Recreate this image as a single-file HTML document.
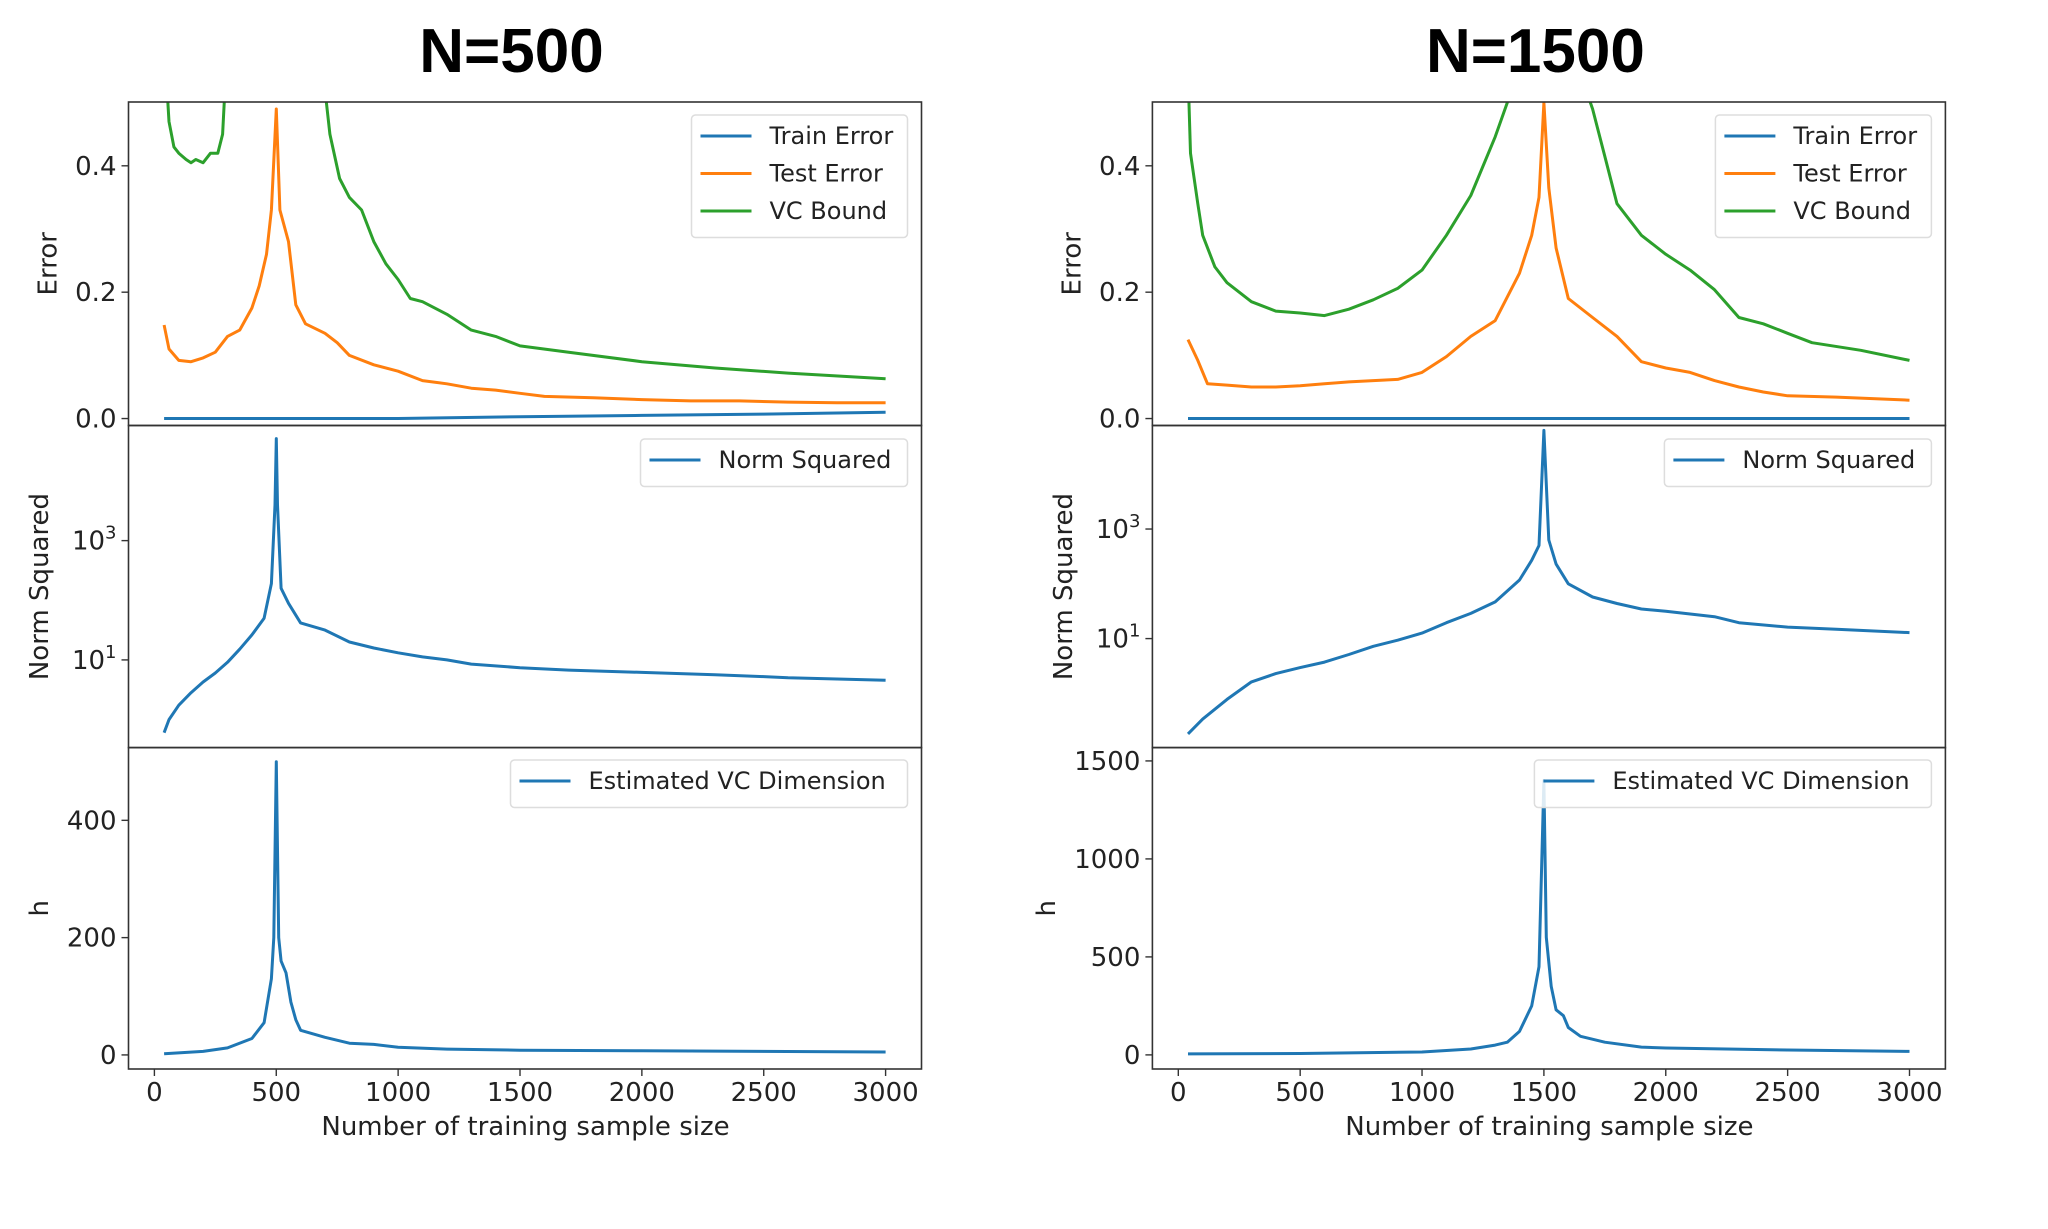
<!DOCTYPE html>
<html><head><meta charset="utf-8"><style>
html,body{margin:0;padding:0;background:#fff;}
svg{display:block;}
text{font-family:"DejaVu Sans","Liberation Sans",sans-serif;fill:#222;}
.title{font-family:"Liberation Sans",sans-serif;font-weight:bold;fill:#000;}
</style></head><body>
<svg id="chart" width="2048" height="1229" viewBox="0 0 2048 1229" xmlns="http://www.w3.org/2000/svg"></svg>
<script>
// ---- data: N=500 ----
const xTest500 = [40,60,100,150,200,250,300,350,400,430,460,480,500,515,550,580,620,700,750,800,900,1000,1100,1200,1300,1400,1500,1600,1800,2000,2200,2400,2600,2800,3000];
const yTest500 = [0.148,0.11,0.092,0.09,0.096,0.105,0.13,0.14,0.175,0.21,0.26,0.33,0.49,0.33,0.28,0.18,0.15,0.135,0.12,0.1,0.085,0.075,0.06,0.055,0.048,0.045,0.04,0.035,0.033,0.03,0.028,0.028,0.026,0.025,0.025];
const xVC500 = [40,60,80,100,130,150,170,200,230,260,280,300,400,500,600,700,720,760,800,850,900,950,1000,1050,1100,1200,1300,1400,1500,1700,2000,2300,2600,3000];
const yVC500 = [0.6,0.47,0.43,0.42,0.41,0.405,0.41,0.405,0.42,0.42,0.45,0.6,1.0,2.0,1.0,0.52,0.45,0.38,0.35,0.33,0.28,0.245,0.22,0.19,0.185,0.165,0.14,0.13,0.115,0.105,0.09,0.08,0.072,0.063];
const xTrain500 = [40,1000,1500,2000,2500,3000];
const yTrain500 = [0,0,0.003,0.005,0.007,0.01];
const xNorm500 = [40,60,100,150,200,250,300,350,400,450,480,495,500,505,520,550,600,700,800,900,1000,1100,1200,1300,1500,1700,2000,2300,2500,2600,3000];
const yNormLog500 = [-0.22,0.0,0.24,0.45,0.63,0.78,0.96,1.18,1.42,1.7,2.28,3.6,4.71,3.6,2.2,1.95,1.62,1.5,1.3,1.2,1.12,1.05,1.0,0.93,0.87,0.83,0.79,0.75,0.72,0.7,0.66];
const xH500 = [40,200,300,400,450,480,490,500,510,520,540,560,580,600,700,800,900,1000,1200,1500,2000,3000];
const yH500 = [2,6,12,28,55,130,200,500,200,160,140,90,60,42,30,20,18,13,10,8,7,5];
// ---- data: N=1500 ----
const xTest1500 = [40,80,120,200,300,400,500,600,700,800,900,1000,1100,1200,1300,1400,1450,1480,1500,1520,1550,1600,1700,1800,1900,2000,2100,2200,2300,2400,2500,2700,3000];
const yTest1500 = [0.125,0.092,0.055,0.053,0.05,0.05,0.052,0.055,0.058,0.06,0.062,0.073,0.098,0.13,0.155,0.23,0.29,0.35,0.5,0.365,0.27,0.19,0.16,0.13,0.09,0.08,0.073,0.06,0.05,0.042,0.036,0.034,0.029];
const xVC1500 = [40,50,80,100,150,200,250,300,400,500,600,700,800,900,1000,1100,1200,1300,1350,1400,1500,1600,1700,1750,1800,1900,2000,2100,2200,2300,2400,2500,2600,2800,3000];
const yVC1500 = [0.55,0.42,0.34,0.29,0.24,0.215,0.2,0.185,0.17,0.167,0.163,0.173,0.188,0.206,0.235,0.29,0.353,0.446,0.5,0.6,1.5,0.6,0.49,0.415,0.34,0.29,0.26,0.235,0.204,0.16,0.15,0.135,0.12,0.108,0.092];
const xTrain1500 = [40,3000];
const yTrain1500 = [0,0];
const xNorm1500 = [40,100,200,300,400,500,600,700,800,900,1000,1100,1200,1300,1400,1450,1480,1500,1520,1550,1600,1700,1800,1900,2000,2200,2300,2500,2700,3000];
const yNormLog1500 = [-0.74,-0.47,-0.11,0.21,0.36,0.47,0.57,0.71,0.86,0.97,1.1,1.29,1.46,1.67,2.07,2.43,2.7,4.8,2.8,2.36,2.0,1.76,1.64,1.54,1.5,1.4,1.29,1.21,1.17,1.11];
const xH1500 = [40,500,1000,1200,1300,1350,1400,1450,1480,1500,1510,1530,1550,1580,1600,1650,1750,1900,2000,2500,3000];
const yH1500 = [5,7,15,30,50,65,120,250,450,1400,600,350,230,200,140,95,65,40,35,25,18];
const xTicks = [0,500,1000,1500,2000,2500,3000];
const errTicks = ['0.0','0.2','0.4'];
const hTicks500 = [0,200,400];
const hTicks1500 = [0,500,1000,1500];

const NS='http://www.w3.org/2000/svg';
const svg=document.getElementById('chart');
function el(tag,attrs,parent){const e=document.createElementNS(NS,tag);for(const k in attrs)e.setAttribute(k,attrs[k]);(parent||svg).appendChild(e);return e;}
const C={blue:'#1f77b4',orange:'#ff7f0e',green:'#2ca02c'};
let clipId=0;

function panel(ox,top,bot,ymin,ymax,tag,xv){
  const L=ox,R=ox+793;
  const sx=v=>ox+25.9+v*(731.2/3000);
  const sy=v=>bot-(v-ymin)/(ymax-ymin)*(bot-top);
  const g=el('g',{});
  
  
  const id='clip'+(clipId++);
  const cp=el('clipPath',{id:id},g);el('rect',{x:L,y:top,width:R-L,height:bot-top},cp);
  return {L,R,top,bot,sx,sy,g,clip:'url(#'+id+')'};
}
function line(p,xs,ys,color,name){
  const d=xs.map((x,i)=>(i?'L':'M')+p.sx(x).toFixed(1)+' '+p.sy(ys[i]).toFixed(1)).join(' ');
  const e=el('path',{d:d,fill:'none',stroke:color,'stroke-width':3,'stroke-linejoin':'round','clip-path':p.clip},p.g);
  
  
}
function frame(p,name){
  const r=el('rect',{x:p.L,y:p.top,width:p.R-p.L,height:p.bot-p.top,fill:'none',stroke:'#333','stroke-width':1.6},p.g);
  
  
}
function ytick(p,v,label,sup){
  const y=p.sy(v);
  el('line',{x1:p.L-7,x2:p.L,y1:y,y2:y,stroke:'#333','stroke-width':1.4},p.g);
  const t=el('text',{x:p.L-12,y:y+9,'text-anchor':'end','font-size':26},p.g);
  
  
  if(sup){t.textContent=label;const s=el('tspan',{'font-size':18,dy:-11},t);s.textContent=sup;}
  else t.textContent=label;
}
function ylabel(p,x,text){
  const y=(p.top+p.bot)/2;
  const t=el('text',{x:x,y:y,'text-anchor':'middle','font-size':26,transform:'rotate(-90 '+x+' '+y+')'},p.g);
  t.textContent=text;
  
  
}
function legend(p,x0,y0,w,entries){
  const h=entries.length*37.5+10;
  const box=el('rect',{x:x0,y:y0,width:w,height:h,rx:4,fill:'#fff','fill-opacity':0.85,stroke:'#ddd','stroke-width':1.5},p.g);
  
  
  entries.forEach((en,i)=>{
    const cy=y0+21+i*37.5;
    el('line',{x1:x0+9,x2:x0+60,y1:cy,y2:cy,stroke:en[1],'stroke-width':3},p.g);
    const t=el('text',{x:x0+78,y:cy+8,'font-size':24},p.g);
    t.textContent=en[0];
    
    
  });
}

function column(ox,titleText,d){
  const title=el('text',{x:ox+383,y:72,'text-anchor':'middle','font-size':62,class:'title'});
  title.textContent=titleText;
  
  
  // error panel
  const p1=panel(ox,102,425.5,-0.011,0.501,'error');
  line(p1,d.xTrain,d.yTrain,C.blue,'train-error-line');
  line(p1,d.xTest,d.yTest,C.orange,'test-error-line');
  line(p1,d.xVC,d.yVC,C.green,'vc-bound-line');
  frame(p1,'error-axes');
  errTicks.forEach(s=>ytick(p1,parseFloat(s),s));
  ylabel(p1,ox-72,'Error');
  legend(p1,ox+563,115,216,[['Train Error',C.blue],['Test Error',C.orange],['VC Bound',C.green]]);
  // norm panel (log10 values)
  const p2=panel(ox,425.5,747.6,d.nMin,d.nMax,'norm');
  line(p2,d.xNorm,d.yNorm,C.blue,'norm-squared-line');
  frame(p2,'norm-axes');
  ytick(p2,3,'10','3');ytick(p2,1,'10','1');
  ylabel(p2,d.nLab,'Norm Squared');
  legend(p2,ox+512,439,267,[['Norm Squared',C.blue]]);
  // h panel
  const p3=panel(ox,747.6,1069,d.hMin,d.hMax,'h');
  line(p3,d.xH,d.yH,C.blue,'vc-dimension-line');
  frame(p3,'h-axes');
  d.hTicks.forEach(v=>ytick(p3,v,String(v)));
  ylabel(p3,d.hLab,'h');
  legend(p3,ox+382,760,397,[['Estimated VC Dimension',C.blue]]);
  xTicks.forEach(v=>{
    const x=p3.sx(v);
    el('line',{x1:x,x2:x,y1:1069,y2:1076,stroke:'#333','stroke-width':1.4},p3.g);
    const t=el('text',{x:x,y:1101,'text-anchor':'middle','font-size':26},p3.g);
    t.textContent=v;
    
    
  });
  const xl=el('text',{x:ox+397,y:1135,'text-anchor':'middle','font-size':26},p3.g);
  xl.textContent='Number of training sample size';
  
  
}
column(128.5,'N=500',{xTrain:xTrain500,yTrain:yTrain500,xTest:xTest500,yTest:yTest500,xVC:xVC500,yVC:yVC500,
  xNorm:xNorm500,yNorm:yNormLog500,nMin:-0.47,nMax:4.93,nLab:48,xH:xH500,yH:yH500,hMin:-24,hMax:524,hTicks:hTicks500,hLab:48});
column(1152.4,'N=1500',{xTrain:xTrain1500,yTrain:yTrain1500,xTest:xTest1500,yTest:yTest1500,xVC:xVC1500,yVC:yVC1500,
  xNorm:xNorm1500,yNorm:yNormLog1500,nMin:-0.99,nMax:4.89,nLab:1072,xH:xH1500,yH:yH1500,hMin:-72,hMax:1568,hTicks:hTicks1500,hLab:1055});
</script>
</body></html>
